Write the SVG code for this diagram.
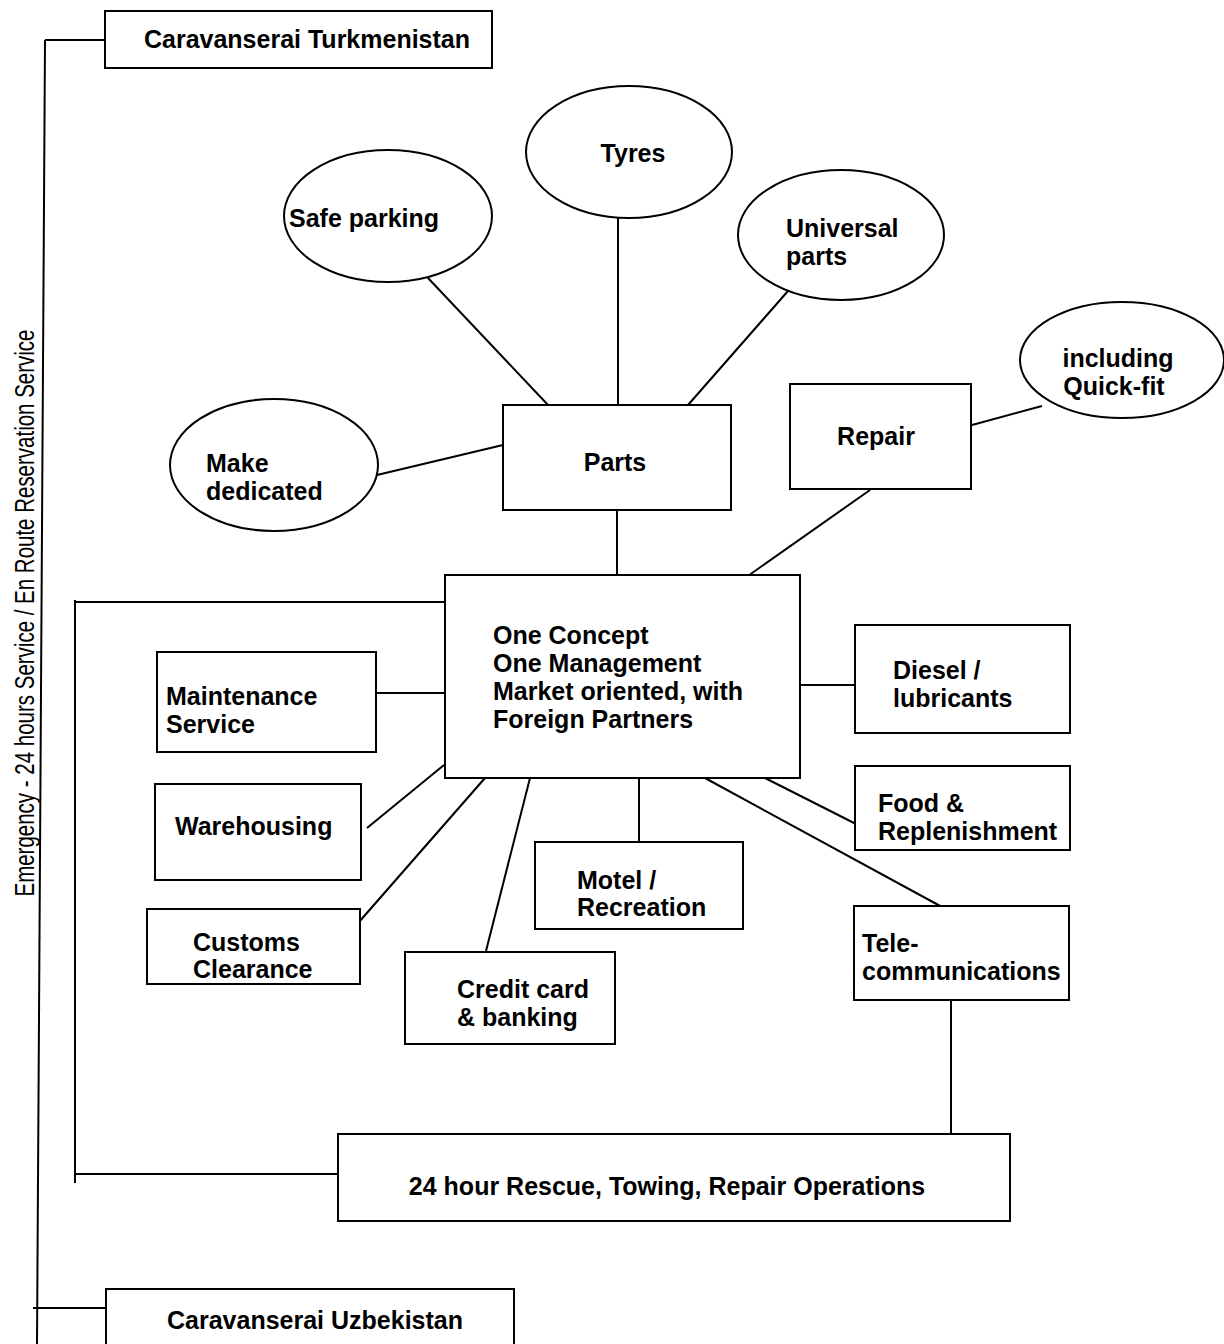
<svg xmlns="http://www.w3.org/2000/svg" width="1224" height="1344" viewBox="0 0 1224 1344">
<style>
.n{fill:#fff;stroke:#000;stroke-width:2}
.c line,.c polyline{stroke:#000;stroke-width:2;fill:none}
text{font-family:"Liberation Sans",Arial,sans-serif;font-weight:bold;font-size:25px;fill:#000}
.v{font-weight:normal;font-size:27px}
</style>
<rect width="1224" height="1344" fill="#fff"/>
<g class="c" id="connectors">
<line x1="45" y1="40" x2="37" y2="1344"/>
<line x1="45" y1="40" x2="105" y2="40"/>
<line x1="33" y1="1308" x2="106" y2="1308"/>
<line x1="75" y1="600" x2="75" y2="1183"/>
<line x1="75" y1="602" x2="445" y2="602"/>
<line x1="75" y1="1174" x2="338" y2="1174"/>
<line x1="617" y1="510" x2="617" y2="575"/>
<line x1="618" y1="218" x2="618" y2="405"/>
<line x1="428" y1="278" x2="548" y2="405"/>
<line x1="788" y1="291" x2="688" y2="405"/>
<line x1="377" y1="475" x2="503" y2="445"/>
<line x1="870" y1="490" x2="745" y2="578"/>
<line x1="972" y1="425" x2="1042" y2="406"/>
<line x1="800" y1="685" x2="855" y2="685"/>
<line x1="376" y1="693" x2="445" y2="693"/>
<line x1="444" y1="765" x2="367" y2="828"/>
<line x1="485" y1="778" x2="345" y2="938"/>
<line x1="530" y1="778" x2="486" y2="951"/>
<line x1="639" y1="778" x2="639" y2="842"/>
<line x1="765" y1="778" x2="858" y2="825"/>
<line x1="705" y1="778" x2="942" y2="907"/>
<line x1="951" y1="1000" x2="951" y2="1140"/>
</g>
<text class="v" transform="translate(34,613) rotate(-90)" text-anchor="middle" textLength="567" lengthAdjust="spacingAndGlyphs">Emergency - 24 hours Service / En Route Reservation Service</text>
<g id="turkmenistan"><rect class="n" x="105" y="11" width="387" height="57"/><text x="307" y="48" text-anchor="middle">Caravanserai Turkmenistan</text></g>
<g id="uzbekistan"><rect class="n" x="106" y="1289" width="408" height="70"/><text x="315" y="1329" text-anchor="middle">Caravanserai Uzbekistan</text></g>
<g id="tyres"><ellipse class="n" cx="629" cy="152" rx="103" ry="66"/><text x="633" y="162" text-anchor="middle">Tyres</text></g>
<g id="safeparking"><ellipse class="n" cx="388" cy="216" rx="104" ry="66"/><text x="289" y="227">Safe parking</text></g>
<g id="universal"><ellipse class="n" cx="841" cy="235" rx="103" ry="65"/><text x="786" y="237">Universal</text><text x="786" y="265">parts</text></g>
<g id="makededicated"><ellipse class="n" cx="274" cy="465" rx="104" ry="66"/><text x="206" y="472">Make</text><text x="206" y="500">dedicated</text></g>
<g id="quickfit"><ellipse class="n" cx="1122" cy="360" rx="102" ry="58"/><text x="1118" y="367" text-anchor="middle">including</text><text x="1114" y="395" text-anchor="middle">Quick-fit</text></g>
<g id="parts"><rect class="n" x="503" y="405" width="228" height="105"/><text x="615" y="471" text-anchor="middle">Parts</text></g>
<g id="repair"><rect class="n" x="790" y="384" width="181" height="105"/><text x="876" y="445" text-anchor="middle">Repair</text></g>
<g id="center"><rect class="n" x="445" y="575" width="355" height="203"/><text x="493" y="644">One Concept</text><text x="493" y="672">One Management</text><text x="493" y="700">Market oriented, with</text><text x="493" y="728">Foreign Partners</text></g>
<g id="diesel"><rect class="n" x="855" y="625" width="215" height="108"/><text x="893" y="679">Diesel /</text><text x="893" y="707">lubricants</text></g>
<g id="maintenance"><rect class="n" x="157" y="652" width="219" height="100"/><text x="166" y="705">Maintenance</text><text x="166" y="733">Service</text></g>
<g id="warehousing"><rect class="n" x="155" y="784" width="206" height="96"/><text x="175" y="835">Warehousing</text></g>
<g id="customs"><rect class="n" x="147" y="909" width="213" height="75"/><text x="193" y="951">Customs</text><text x="193" y="978">Clearance</text></g>
<g id="creditcard"><rect class="n" x="405" y="952" width="210" height="92"/><text x="457" y="998">Credit card</text><text x="457" y="1026">&amp; banking</text></g>
<g id="motel"><rect class="n" x="535" y="842" width="208" height="87"/><text x="577" y="889">Motel /</text><text x="577" y="916">Recreation</text></g>
<g id="food"><rect class="n" x="855" y="766" width="215" height="84"/><text x="878" y="812">Food &amp;</text><text x="878" y="840">Replenishment</text></g>
<g id="telecom"><rect class="n" x="854" y="906" width="215" height="94"/><text x="862" y="952">Tele-</text><text x="862" y="980">communications</text></g>
<g id="rescue"><rect class="n" x="338" y="1134" width="672" height="87"/><text x="667" y="1195" text-anchor="middle">24 hour Rescue, Towing, Repair Operations</text></g>
</svg>
